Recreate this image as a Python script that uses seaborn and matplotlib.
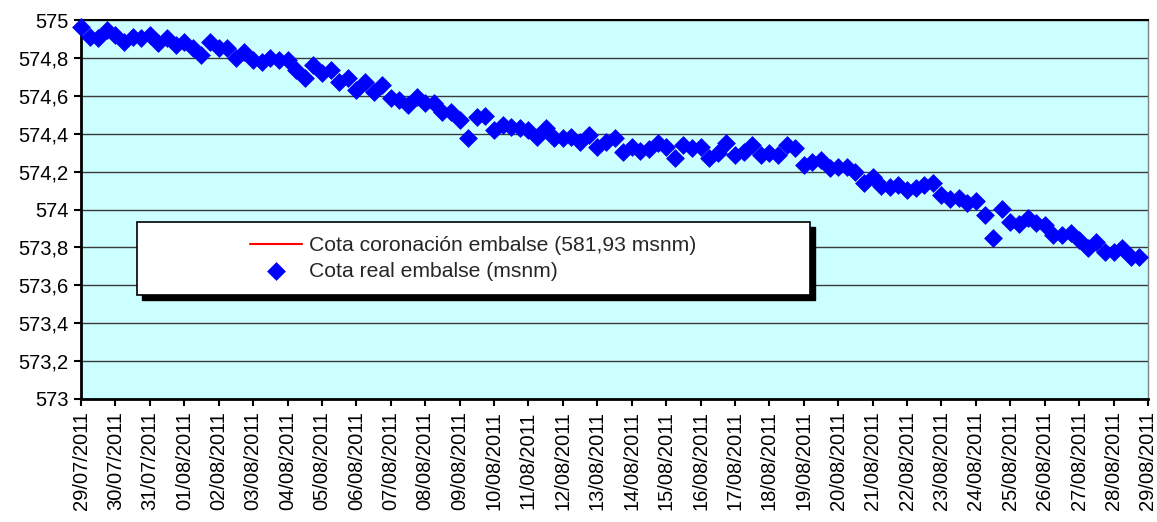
import pandas as pd
import numpy as np
import matplotlib
matplotlib.use("Agg")
import matplotlib.pyplot as plt
import matplotlib.dates as mdates
from matplotlib.patches import Rectangle
from matplotlib.ticker import FuncFormatter
import seaborn as sns

# --------------------------------------------------
# Data (one reading every 6 h)
# --------------------------------------------------
start_date = "2011-07-29"
cota_coronacion = 581.93  # msnm, above the visible range

cota_real = [
    574.965, 574.912, 574.903, 574.947, 574.921, 574.886, 574.912, 574.903,
    574.921, 574.877, 574.903, 574.868, 574.886, 574.851, 574.815, 574.886,
    574.851, 574.851, 574.798, 574.833, 574.789, 574.780, 574.798, 574.789,
    574.789, 574.736, 574.692, 574.763, 574.719, 574.736, 574.674, 574.692,
    574.630, 574.674, 574.622, 574.657, 574.587, 574.578, 574.551, 574.595,
    574.560, 574.560, 574.516, 574.516, 574.472, 574.376, 574.490, 574.493,
    574.420, 574.446, 574.437, 574.428, 574.420, 574.384, 574.428, 574.376,
    574.376, 574.384, 574.358, 574.393, 574.331, 574.358, 574.376, 574.305,
    574.331, 574.310, 574.318, 574.349, 574.331, 574.270, 574.340, 574.323,
    574.331, 574.270, 574.296, 574.349, 574.288, 574.305, 574.340, 574.288,
    574.296, 574.288, 574.340, 574.323, 574.235, 574.252, 574.261, 574.217,
    574.226, 574.226, 574.199, 574.138, 574.173, 574.125, 574.120, 574.129,
    574.103, 574.112, 574.129, 574.141, 574.076, 574.054, 574.059, 574.036,
    574.046, 573.971, 573.848, 574.003, 573.932, 573.923, 573.953, 573.927,
    573.918, 573.865, 573.865, 573.874, 573.839, 573.795, 573.830, 573.777,
    573.777, 573.795, 573.751, 573.751,
]

fechas = pd.date_range(start_date, periods=len(cota_real), freq="6h")
df = pd.DataFrame({"fecha": fechas, "cota": cota_real})

y_ticks = [573, 573.2, 573.4, 573.6, 573.8, 574, 574.2, 574.4, 574.6, 574.8, 575]
x_start = pd.Timestamp("2011-07-29")
x_end = pd.Timestamp("2011-08-29")

# --------------------------------------------------
# Style
# --------------------------------------------------
sns.set_style("white")
plt.rcParams["font.family"] = ["Liberation Sans", "DejaVu Sans"]
FS = 14.5

fig = plt.figure(figsize=(11.57, 5.22), dpi=100)
ax = fig.add_axes([81 / 1157, 1 - 399 / 522, (1148 - 81) / 1157, (399 - 20) / 522])
ax.set_facecolor("#CCFFFF")

# crest level line (out of view, kept for the legend)
sns.lineplot(x=[x_start, x_end], y=[cota_coronacion, cota_coronacion], ax=ax,
             color="#FF0000", linewidth=1.5,
             label="Cota coronación embalse (581,93 msnm)", legend=False)

sns.scatterplot(data=df, x="fecha", y="cota", ax=ax, marker="D", s=92,
                color="#0000FF", linewidth=0, label="Cota real embalse (msnm)",
                legend=False, zorder=3, clip_on=False)

ax.set_xlim(x_start, x_end)
ax.set_ylim(573, 575)
ax.set_yticks(y_ticks)
ax.yaxis.set_major_formatter(FuncFormatter(lambda v, p: ("%g" % v).replace(".", ",")))
ax.xaxis.set_major_locator(mdates.DayLocator())
ax.xaxis.set_major_formatter(mdates.DateFormatter("%d/%m/%Y"))
ax.set_xlabel("")
ax.set_ylabel("")

ax.grid(axis="y", color="#3a3a3a", linewidth=1)
ax.grid(axis="x", visible=False)
ax.set_axisbelow(True)

for s in ["left", "bottom"]:
    ax.spines[s].set_color("black")
    ax.spines[s].set_linewidth(2)
ax.spines["top"].set_color("black")
ax.spines["top"].set_linewidth(1.5)
ax.spines["right"].set_color("#808080")
ax.spines["right"].set_linewidth(1)

ax.tick_params(axis="both", direction="out", length=5, width=1.5, colors="black",
               labelsize=FS, left=True, bottom=True)
ax.tick_params(axis="x", labelrotation=90, pad=4)
ax.tick_params(axis="y", pad=4)

# --------------------------------------------------
# Legend box with shadow
# --------------------------------------------------
bx0, bx1 = (137 - 81) / 1067, (810 - 81) / 1067
by0, by1 = (399 - 295) / 379, (399 - 222) / 379
ax.add_patch(Rectangle((bx0 + 5 / 1067, by0 - 5 / 379), bx1 - bx0, by1 - by0,
                       transform=ax.transAxes, facecolor="black", edgecolor="black",
                       zorder=5, clip_on=False))
ax.add_patch(Rectangle((bx0, by0), bx1 - bx0, by1 - by0, transform=ax.transAxes,
                       facecolor="white", edgecolor="black", linewidth=1.2,
                       zorder=6, clip_on=False))

handles, labels = ax.get_legend_handles_labels()
leg = ax.legend(handles, labels, loc="center",
                bbox_to_anchor=((473.5 - 81) / 1067, (by0 + by1) / 2),
                frameon=False, fontsize=15.2, handlelength=2.45, handletextpad=0.35,
                labelspacing=0.3, borderpad=0, markerscale=1.0)
leg.set_zorder(7)

fig.savefig("out.png", dpi=100, facecolor="white")
